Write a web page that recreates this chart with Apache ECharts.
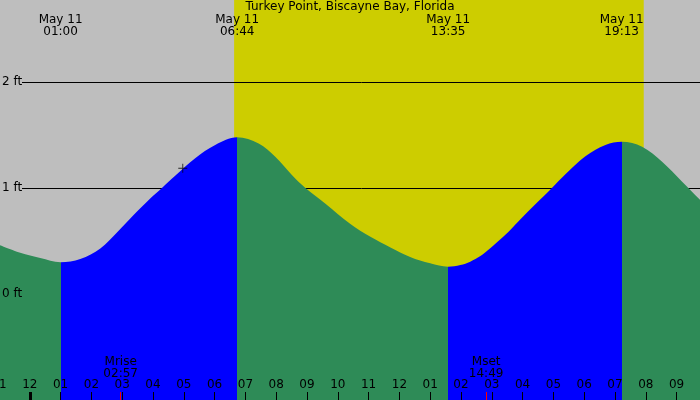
<!DOCTYPE html>
<html>
<head>
<meta charset="utf-8">
<title>Turkey Point, Biscayne Bay, Florida</title>
<script src="https://cdn.jsdelivr.net/npm/echarts@6/dist/echarts.min.js"></script>
<style>
  html, body { margin: 0; padding: 0; background: #bebebe; }
  #chart { width: 700px; height: 400px; }
</style>
</head>
<body>
<div id="chart"></div>
<script>
const stationName = 'Turkey Point, Biscayne Bay, Florida'

// tide height, hours after midnight May 11 -> feet
const tideHours = [-1.0, -0.31, 0.34, 1.0, 1.64, 2.29, 2.83, 3.37, 3.91, 4.29, 4.72, 5.37, 6.02, 6.73,
  7.43, 7.97, 8.51, 8.95, 9.59, 10.41, 11.06, 11.71, 12.35, 13.0, 13.58, 13.98, 14.3, 14.63, 14.95,
  15.28, 15.6, 15.93, 16.25, 16.58, 16.95, 17.39, 18.04, 18.69, 19.22, 19.88, 20.53, 21.18, 21.77, 21.83]
const tideFeet = [0.465, 0.39, 0.34, 0.30, 0.33, 0.43, 0.58, 0.745, 0.90, 1.0, 1.115, 1.28, 1.405, 1.478,
  1.42, 1.295, 1.123, 1.0, 0.855, 0.66, 0.54, 0.44, 0.35, 0.29, 0.258, 0.274, 0.305, 0.358, 0.431,
  0.516, 0.604, 0.705, 0.799, 0.893, 1.0, 1.13, 1.30, 1.406, 1.437, 1.39, 1.248, 1.059, 0.887, 0.875]

// high / low water
const eventDates = ['May 11', 'May 11', 'May 11', 'May 11']
const eventTimes = ['01:00', '06:44', '13:35', '19:13']
const eventTypes = ['low', 'high', 'low', 'high']

const sunTimes = ['06:38', '19:56'] // sunrise, sunset
const moonNames = ['Mrise', 'Mset']
const moonTimes = ['02:57', '14:49']

const nowTime = '04:58'
const nowFeet = 1.186

// bottom hour labels, first one is 23:00 May 10
const hourStart = -1
const hourLabels = ['11', '12', '01', '02', '03', '04', '05', '06', '07', '08', '09', '10',
  '11', '12', '01', '02', '03', '04', '05', '06', '07', '08', '09']
const feetTicks = [0, 1, 2]

const xMin = -1
const xMax = 21.825
const yMin = -1
const yMax = 2.774

const nightColor = '#bebebe'
const dayColor = '#cdcd00'
const fallColor = '#2e8b57'
const riseColor = '#0000ff'
const font = 'DejaVu Sans'

const toHours = s => {
  const [h, m] = s.split(':').map(Number)
  return h + m / 60
}
const eventHours = eventTimes.map(toHours)
const moonHours = moonTimes.map(toHours)
const sunHours = sunTimes.map(toHours)
const findIdx = (arr, v) => arr.findIndex(a => Math.abs(a - v) < 1e-6)

// rising tide blue, falling tide green
const pieces = []
pieces.push({ lt: eventHours[0], color: eventTypes[0] === 'low' ? fallColor : riseColor })
for (let i = 0; i < eventHours.length - 1; i++) {
  pieces.push({ gte: eventHours[i], lt: eventHours[i + 1], color: eventTypes[i] === 'low' ? riseColor : fallColor })
}
const last = eventHours.length - 1
pieces.push({ gte: eventHours[last], color: eventTypes[last] === 'low' ? riseColor : fallColor })

const txt = { color: '#000', fontFamily: font, fontSize: 12 }
const noLine = { show: false, onZero: false }

const option = {
  animation: false,
  backgroundColor: nightColor,
  textStyle: { fontFamily: font },
  title: {
    text: stationName,
    left: 'center',
    top: 1,
    padding: 0,
    textStyle: { ...txt, fontWeight: 'normal' }
  },
  grid: [
    { left: -1, right: -2, top: 0, bottom: 0, containLabel: false, outerBoundsMode: 'none' },
    { left: 22, right: -2, top: 0, bottom: 0, containLabel: false, outerBoundsMode: 'none' }
  ],
  xAxis: [
    { // hours
      gridIndex: 0, type: 'value', position: 'bottom', min: xMin, max: xMax, interval: 1, z: 5,
      axisLine: noLine,
      splitLine: { show: false },
      axisTick: { inside: true, length: 8, lineStyle: { color: '#000', width: 1 } },
      axisLabel: {
        inside: true, margin: 9, ...txt,
        formatter: v => {
          const i = Math.round(v - hourStart)
          return Math.abs(v - hourStart - i) < 1e-6 && hourLabels[i] ? hourLabels[i] : ''
        }
      }
    },
    { // high / low labels on top
      gridIndex: 0, type: 'value', position: 'top', min: xMin, max: xMax, z: 5,
      axisLine: noLine,
      splitLine: { show: false },
      axisTick: { show: false },
      axisLabel: {
        inside: true, margin: 14, lineHeight: 12, ...txt,
        customValues: eventHours,
        formatter: v => {
          const i = findIdx(eventHours, v)
          return i < 0 ? '' : eventDates[i] + '\n' + eventTimes[i]
        }
      }
    },
    { // moon rise / set
      gridIndex: 0, type: 'value', position: 'bottom', min: xMin, max: xMax, z: 6,
      axisLine: noLine,
      splitLine: { show: false },
      axisTick: { inside: true, length: 8, customValues: moonHours, lineStyle: { color: '#ff0000', width: 1 } },
      axisLabel: {
        inside: true, margin: 20, lineHeight: 12, ...txt,
        customValues: moonHours,
        formatter: v => {
          const i = findIdx(moonHours, v)
          return i < 0 ? '' : moonNames[i] + '\n' + moonTimes[i]
        }
      }
    },
    { // midnight
      gridIndex: 0, type: 'value', position: 'bottom', min: xMin, max: xMax, z: 6,
      axisLine: noLine,
      splitLine: { show: false },
      axisTick: { inside: true, length: 8, customValues: [0], lineStyle: { color: '#000', width: 3 } },
      axisLabel: { show: false }
    },
    { // only for the height lines
      gridIndex: 1, type: 'value', min: xMin, max: xMax, show: false
    }
  ],
  yAxis: [
    {
      gridIndex: 0, type: 'value', min: yMin, max: yMax, z: 5,
      axisLine: noLine,
      axisTick: { show: false },
      splitLine: { show: false },
      axisLabel: { inside: true, margin: 3, ...txt, customValues: feetTicks, formatter: v => v + ' ft' }
    },
    {
      gridIndex: 1, type: 'value', min: yMin, max: yMax, interval: 1,
      axisLine: noLine,
      axisTick: { show: false },
      axisLabel: { show: false },
      splitLine: { show: true, showMinLine: false, showMaxLine: false, lineStyle: { color: '#000', width: 1 } }
    }
  ],
  visualMap: {
    type: 'piecewise', show: false, seriesIndex: 1, dimension: 0, pieces
  },
  series: [
    { // daylight
      type: 'custom', xAxisIndex: 0, yAxisIndex: 0, z: -1, silent: true,
      data: [[sunHours[0], sunHours[1], 0]],
      encode: { x: [0, 1], y: 2 },
      renderItem: (params, api) => {
        const a = api.coord([api.value(0), 0])
        const b = api.coord([api.value(1), 0])
        const cs = params.coordSys
        return {
          type: 'rect',
          shape: { x: a[0], y: cs.y, width: b[0] - a[0], height: cs.height },
          style: { fill: dayColor }
        }
      }
    },
    { // tide
      type: 'line', xAxisIndex: 0, yAxisIndex: 0, z: 2, silent: true,
      data: tideHours.map((h, i) => [h, tideFeet[i]]),
      smooth: 0.35,
      showSymbol: false,
      symbol: 'none',
      lineStyle: { width: 0, opacity: 0 },
      areaStyle: { origin: 'start', opacity: 1 }
    },
    { // now marker
      type: 'scatter', xAxisIndex: 0, yAxisIndex: 0, z: 4, silent: true,
      data: [[toHours(nowTime), nowFeet]],
      symbol: 'path://M0,4.5h10v1h-10z M4.5,0h1v10h-1z',
      symbolSize: 9,
      itemStyle: { color: '#000' }
    }
  ]
}

const myChart = echarts.init(document.getElementById('chart'))
myChart.setOption(option)
</script>
</body>
</html>
